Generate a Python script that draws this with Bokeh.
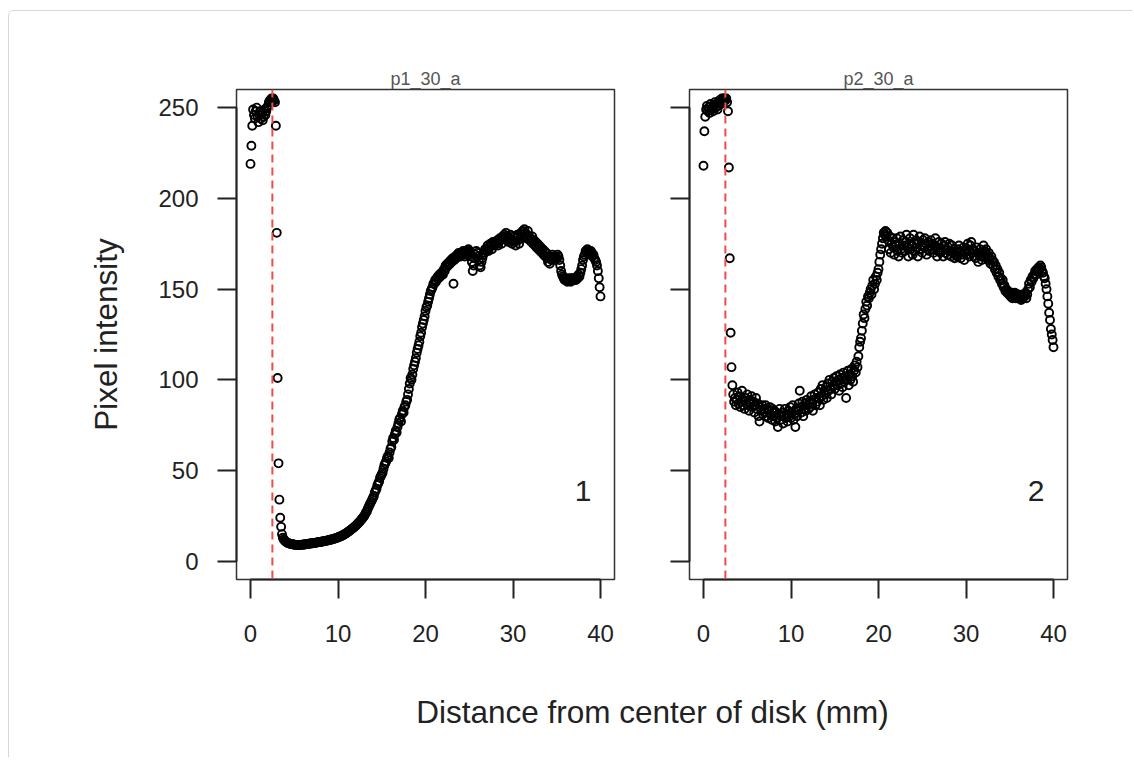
from bokeh.plotting import figure
from bokeh.layouts import row, column
from bokeh.models import FixedTicker, Span, Label, ColumnDataSource
from bokeh.embed import file_html
from bokeh.resources import INLINE

FONT = "Liberation Sans"

panel_titles = ["p1_30_a", "p2_30_a"]
panel_tags = ["1", "2"]
x_ticks = [0, 10, 20, 30, 40]
y_ticks = [0, 50, 100, 150, 200, 250]
cutoff_mm = 2.5

# sampling grid along the radius (mm), 0.1 mm step
distance_mm = [i / 10 for i in range(401)]

p1_intensity = [
    219, 229, 240, 249, 246, 244, 248, 250, 245, 242,
    246, 248, 244, 247, 243, 245, 249, 246, 248, 250,
    251, 253, 254, 253, 255, 254, 255, 254, 253, 240,
    181, 101, 54, 34, 24, 19, 15, 13, 12, 11.5,
    11.0, 10.6, 10.3, 10.1, 9.9, 9.7, 9.6, 9.5, 9.4, 9.3,
    9.2, 9.1, 9.1, 9.0, 9.0, 9.0, 9.0, 9.1, 9.1, 9.2,
    9.2, 9.3, 9.3, 9.4, 9.5, 9.5, 9.6, 9.7, 9.8, 9.8,
    9.9, 10.0, 10.1, 10.2, 10.2, 10.3, 10.4, 10.5, 10.6, 10.6,
    10.7, 10.8, 10.9, 11.0, 11.1, 11.2, 11.3, 11.4, 11.5, 11.6,
    11.7, 11.8, 12.0, 12.1, 12.2, 12.4, 12.5, 12.7, 12.8, 13.0,
    13.2, 13.4, 13.6, 13.8, 14.0, 14.3, 14.5, 14.8, 15.1, 15.4,
    15.7, 16.0, 16.4, 16.7, 17.1, 17.5, 17.9, 18.3, 18.7, 19.1,
    19.5, 20.0, 20.5, 21.0, 21.5, 22.0, 22.6, 23.2, 23.8, 24.4,
    25, 26, 27, 27.5, 29, 30, 31, 32, 33, 34,
    35, 36, 38, 39, 40, 42, 43, 44, 46, 47,
    48, 49, 51, 53, 54, 55, 57, 58, 57, 60,
    62, 63, 66, 68, 67, 70, 72, 71, 74, 76,
    78, 79, 77, 81, 83, 82, 85, 86, 88, 89,
    92, 95, 98, 101, 100, 103, 106, 108, 110, 112,
    115, 117, 119, 121, 124, 126, 129, 131, 133, 135,
    138, 140, 141, 143, 145, 147, 149, 150, 151, 153,
    153, 155, 154, 156, 157, 156, 158, 157, 159, 158,
    158, 161, 160, 163, 162, 164, 163, 165, 164, 166,
    165, 167, 153, 166, 168, 167, 169, 168, 170, 169,
    168, 170, 169, 171, 170, 168, 171, 169, 170, 172,
    171, 170, 168, 165, 160, 163, 167, 169, 171, 170,
    168, 166, 163, 162, 165, 167, 169, 170, 172, 171,
    172, 174, 171, 173, 175, 174, 172, 176, 175, 174,
    176, 175, 177, 174, 176, 178, 177, 175, 179, 178,
    180, 178, 181, 177, 179, 176, 178, 180, 177, 175,
    177, 179, 176, 174, 178, 180, 177, 175, 178, 181,
    180, 182, 179, 183, 181, 178, 180, 182, 179, 177,
    178, 176, 179, 175, 177, 174, 176, 173, 175, 172,
    174, 171, 173, 170, 172, 169, 171, 168, 170, 167,
    165, 167, 164, 168, 166, 169, 167, 168, 166, 168,
    167, 169, 168, 166, 163, 160, 158, 157, 156, 155,
    156, 155, 154, 155, 156, 155, 154, 156, 155, 156,
    155, 156, 155, 157, 156, 158, 157, 159, 161, 163,
    166, 168, 169, 171, 170, 172, 171, 170, 169, 171,
    170, 168, 169, 167, 166, 165, 163, 160, 156, 151,
    146,
]

p2_intensity = [
    218, 237, 245, 249, 251, 248, 250, 247, 252, 249,
    250, 248, 251, 253, 250, 252, 249, 251, 254, 253,
    252, 255, 254, 255, 255, 254, 255, 253, 248, 217,
    167, 126, 107, 97, 92, 88, 90, 86, 89, 93,
    87, 91, 85, 88, 94, 86, 89, 84, 90, 87,
    92, 86, 83, 89, 87, 91, 85, 88, 82, 86,
    90, 84, 87, 80, 77, 85, 83, 86, 81, 84,
    82, 86, 80, 84, 79, 83, 85, 81, 78, 84,
    80, 83, 77, 82, 79, 74, 81, 84, 78, 80,
    82, 76, 80, 84, 79, 81, 77, 83, 80, 85,
    79, 82, 86, 78, 81, 74, 84, 80, 83, 87,
    94, 85, 82, 88, 80, 84, 87, 83, 89, 86,
    84, 88, 85, 91, 87, 83, 89, 92, 86, 90,
    88, 93, 90, 86, 95, 91, 97, 89, 94, 92,
    96, 90, 98, 94, 100, 95, 92, 99, 97, 101,
    95, 99, 102, 97, 100, 94, 103, 98, 101, 96,
    104, 99, 102, 90, 100, 105, 97, 103, 100, 106,
    102, 99, 105, 108, 104, 110, 107, 113, 118, 121,
    123, 127, 131, 136, 134, 139, 143, 141, 146, 145,
    148, 150, 147, 152, 155, 150, 153, 157, 155, 159,
    161, 165, 169, 172, 175, 178, 181, 180, 182, 179,
    181, 177, 172, 179, 170, 175, 178, 173, 169, 176,
    174, 178, 171, 168, 175, 179, 172, 170, 177, 174,
    171, 176, 180, 173, 168, 175, 178, 172, 174, 169,
    180, 175, 171, 177, 173, 168, 176, 179, 172, 174,
    170, 177, 173, 178, 175, 169, 172, 176, 171, 174,
    177, 172, 175, 170, 174, 178, 173, 168, 171, 176,
    173, 170, 175, 171, 168, 174, 176, 170, 172, 169,
    173, 175, 171, 168, 174, 170, 172, 167, 169, 171,
    168, 172, 174, 170, 167, 171, 169, 173, 166, 170,
    172, 169, 175, 171, 168, 174, 176, 170, 172, 168,
    171, 167, 173, 170, 165, 169, 172, 168, 166, 170,
    174, 171, 168, 172, 169, 166, 170, 167, 164, 168,
    166, 163, 165, 161, 163, 159, 161, 157, 159, 155,
    156, 153, 155, 151, 152, 149, 150, 148, 149, 147,
    148, 146, 148, 145, 147, 146, 148, 145, 147, 146,
    147, 145, 146, 144, 146, 145, 147, 146, 148, 145,
    147, 150, 153, 151, 155, 154, 157, 156, 158, 160,
    158, 161, 160, 162, 161, 163, 162, 160, 159, 157,
    156, 153, 150, 146, 142, 137, 133, 128, 125, 122,
    118,
]


def make_panel(title, values, tag, first, ml, mr):
    p = figure(frame_width=378, frame_height=490,
               x_range=(-1.6, 41.6), y_range=(-10, 260),
               output_backend="svg", toolbar_location=None,
               min_border_left=ml, min_border_right=mr,
               min_border_top=78, min_border_bottom=70,
               title=title, background_fill_color="white",
               border_fill_color="white")
    p.title.align = "center"
    p.title.text_font = FONT
    p.title.text_font_size = "18px"
    p.title.text_font_style = "normal"
    p.title.text_color = "#555555"
    p.title.standoff = 2

    p.grid.visible = False
    p.outline_line_color = "#333333"
    p.outline_line_width = 1.5

    src = ColumnDataSource(dict(x=distance_mm, y=values))
    p.scatter("x", "y", source=src, marker="circle", size=8,
              fill_color=None, line_color="black", line_width=1.9)

    p.add_layout(Span(location=cutoff_mm, dimension="height",
                      line_color="#f24a4a", line_width=2, line_dash="8 5"))
    p.add_layout(Label(x=38, y=38.5, text=tag, text_font=FONT,
                       text_font_size="30px", text_color="#222222",
                       text_align="center", text_baseline="middle"))

    for ax, ticks in ((p.xaxis[0], x_ticks), (p.yaxis[0], y_ticks)):
        ax.ticker = FixedTicker(ticks=ticks)
        ax.bounds = (ticks[0], ticks[-1])
        ax.major_tick_in = 0
        ax.major_tick_out = 19
        ax.minor_tick_in = 0
        ax.minor_tick_out = 0
        ax.axis_line_color = "#222222"
        ax.axis_line_width = 2
        ax.major_tick_line_color = "#222222"
        ax.major_tick_line_width = 2
        ax.major_label_text_font = FONT
        ax.major_label_text_font_size = "24px"
        ax.major_label_text_color = "#222222"

    p.xaxis.major_label_standoff = 26
    p.yaxis.major_label_standoff = 19
    if first:
        p.yaxis.axis_label = "Pixel intensity"
        p.yaxis.axis_label_text_font = FONT
        p.yaxis.axis_label_text_font_size = "31.5px"
        p.yaxis.axis_label_text_font_style = "normal"
        p.yaxis.axis_label_text_color = "#222222"
        p.yaxis.axis_label_standoff = 31
    else:
        p.yaxis.major_label_overrides = {t: "" for t in y_ticks}
    return p


f1 = make_panel(panel_titles[0], p1_intensity, panel_tags[0], True, 227, 2)
f2 = make_panel(panel_titles[1], p2_intensity, panel_tags[1], False, 73, 65)

f3 = figure(width=1123, height=108, output_backend="svg", toolbar_location=None,
            x_axis_type=None, y_axis_type=None, min_border=0,
            x_range=(0, 1), y_range=(0, 1))
f3.outline_line_color = None
f3.add_layout(Label(x=643, y=46, x_units="screen", y_units="screen",
                    text="Distance from center of disk (mm)", text_font=FONT,
                    text_font_size="31.5px", text_color="#222222",
                    text_align="center", text_baseline="middle"))

layout = column(row(f1, f2), f3, margin=(10, 0, 0, 8),
                styles={"border-left": "1px solid #d6d6d6",
                        "border-top": "1px solid #d6d6d6",
                        "border-top-left-radius": "6px",
                        "background": "white"})

open("out.html", "w").write(file_html(layout, INLINE))
